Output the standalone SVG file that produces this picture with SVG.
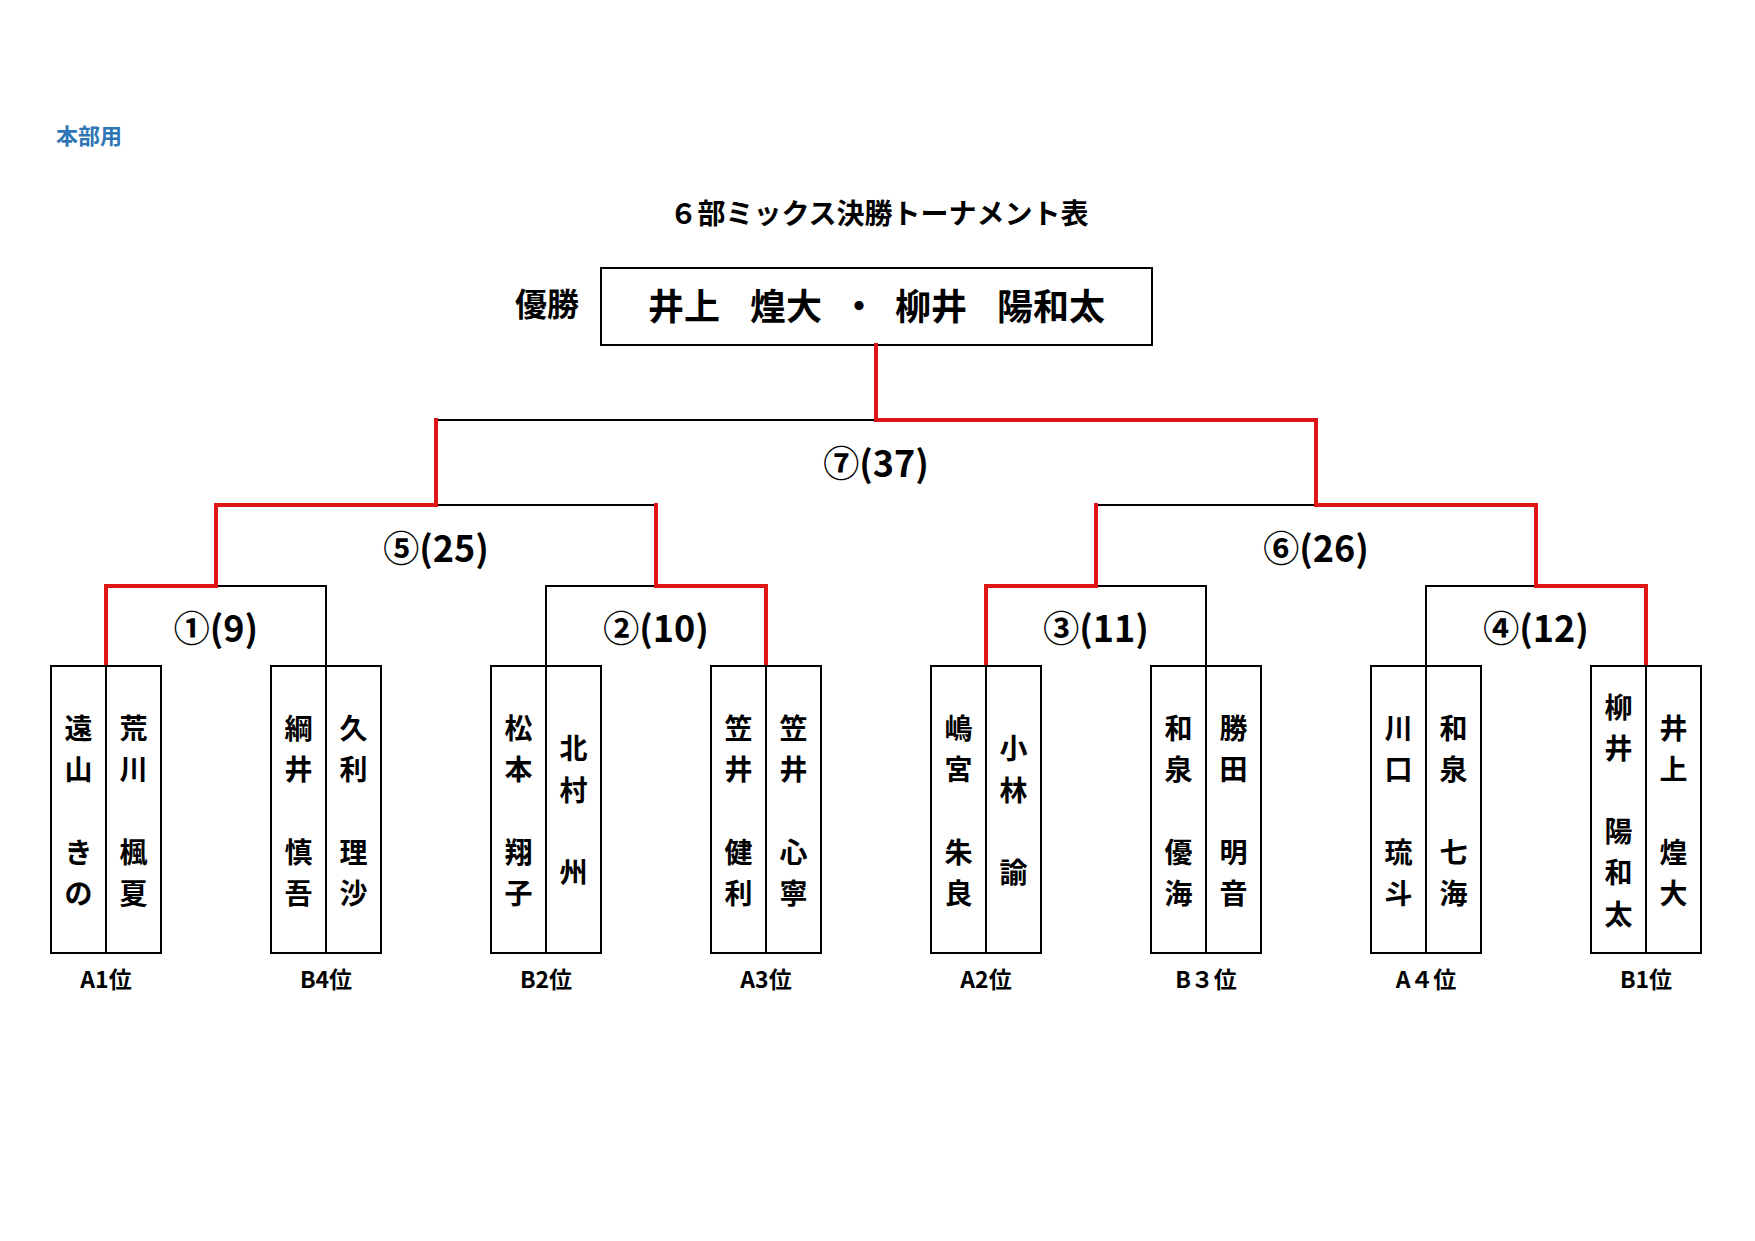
<svg xmlns="http://www.w3.org/2000/svg" width="1755" height="1241" viewBox="0 0 1755 1241">
<style>
.t{font-family:"Noto Sans CJK JP","Noto Sans",sans-serif;font-weight:bold;fill:#000}
.box{fill:#fff;stroke:#000;stroke-width:2}
.div{stroke:#000;stroke-width:2}
.blk{fill:none;stroke:#000;stroke-width:2}
.red{fill:none;stroke:#e01515;stroke-width:4;stroke-linejoin:miter;stroke-linecap:square}
.nm{font-size:28px;text-anchor:middle}
.rk{font-size:23px;text-anchor:middle}
.mt{font-size:36px;text-anchor:middle}
</style>
<rect width="1755" height="1241" fill="#fff"/>
<text class="t" x="56" y="144" style="font-size:22px;fill:#2e75b6">本部用</text>
<text class="t" x="879" y="224" style="font-size:28px;text-anchor:middle">６部ミックス決勝トーナメント表</text>
<g id="champion">
<text class="t" x="515" y="316" style="font-size:32px">優勝</text>
<rect class="box" x="601" y="268" width="551" height="77"/>
<text class="t" y="320" style="font-size:36px"><tspan x="648">井上 </tspan><tspan x="750">煌大 </tspan><tspan x="841">・ </tspan><tspan x="895">柳井 </tspan><tspan x="997">陽和太</tspan></text>
</g>
<g id="connectors">
<path class="blk" d="M216 586H326V666M546 666V586H656M1096 586H1206V666M1426 666V586H1536M436 505H656M1096 505H1316M436 420H876"/>
<path class="red" d="M106 666V586H216V505H436V420"/>
<path class="red" d="M766 666V586H656V505"/>
<path class="red" d="M986 666V586H1096V505"/>
<path class="red" d="M1646 666V586H1536V505H1316V420H876V345"/>
</g>
<g id="match-labels">
<text class="t mt" x="216" y="642">①(9)</text>
<text class="t mt" x="656" y="642">②(10)</text>
<text class="t mt" x="1096" y="642">③(11)</text>
<text class="t mt" x="1536" y="642">④(12)</text>
<text class="t mt" x="436" y="562">⑤(25)</text>
<text class="t mt" x="1316" y="562">⑥(26)</text>
<text class="t mt" x="876" y="477">⑦(37)</text>
</g>
<g id="team-a1">
<rect class="box" x="51" y="666" width="110" height="287"/><line class="div" x1="106" y1="666" x2="106" y2="953"/>
<text class="t nm"><tspan x="78.5" y="738.5">遠</tspan><tspan x="78.5" y="780">山</tspan><tspan x="78.5" y="862.5">き</tspan><tspan x="78.5" y="904">の</tspan></text>
<text class="t nm"><tspan x="133.5" y="738.5">荒</tspan><tspan x="133.5" y="780">川</tspan><tspan x="133.5" y="862.5">楓</tspan><tspan x="133.5" y="904">夏</tspan></text>
<text class="t rk" x="106" y="988">A1位</text>
</g>
<g id="team-b4">
<rect class="box" x="271" y="666" width="110" height="287"/><line class="div" x1="326" y1="666" x2="326" y2="953"/>
<text class="t nm"><tspan x="298.5" y="738.5">綱</tspan><tspan x="298.5" y="780">井</tspan><tspan x="298.5" y="862.5">慎</tspan><tspan x="298.5" y="904">吾</tspan></text>
<text class="t nm"><tspan x="353.5" y="738.5">久</tspan><tspan x="353.5" y="780">利</tspan><tspan x="353.5" y="862.5">理</tspan><tspan x="353.5" y="904">沙</tspan></text>
<text class="t rk" x="326" y="988">B4位</text>
</g>
<g id="team-b2">
<rect class="box" x="491" y="666" width="110" height="287"/><line class="div" x1="546" y1="666" x2="546" y2="953"/>
<text class="t nm"><tspan x="518.5" y="738.5">松</tspan><tspan x="518.5" y="780">本</tspan><tspan x="518.5" y="862.5">翔</tspan><tspan x="518.5" y="904">子</tspan></text>
<text class="t nm"><tspan x="573.5" y="759">北</tspan><tspan x="573.5" y="800.5">村</tspan><tspan x="573.5" y="883">州</tspan></text>
<text class="t rk" x="546" y="988">B2位</text>
</g>
<g id="team-a3">
<rect class="box" x="711" y="666" width="110" height="287"/><line class="div" x1="766" y1="666" x2="766" y2="953"/>
<text class="t nm"><tspan x="738.5" y="738.5">笠</tspan><tspan x="738.5" y="780">井</tspan><tspan x="738.5" y="862.5">健</tspan><tspan x="738.5" y="904">利</tspan></text>
<text class="t nm"><tspan x="793.5" y="738.5">笠</tspan><tspan x="793.5" y="780">井</tspan><tspan x="793.5" y="862.5">心</tspan><tspan x="793.5" y="904">寧</tspan></text>
<text class="t rk" x="766" y="988">A3位</text>
</g>
<g id="team-a2">
<rect class="box" x="931" y="666" width="110" height="287"/><line class="div" x1="986" y1="666" x2="986" y2="953"/>
<text class="t nm"><tspan x="958.5" y="738.5">嶋</tspan><tspan x="958.5" y="780">宮</tspan><tspan x="958.5" y="862.5">朱</tspan><tspan x="958.5" y="904">良</tspan></text>
<text class="t nm"><tspan x="1013.5" y="759">小</tspan><tspan x="1013.5" y="800.5">林</tspan><tspan x="1013.5" y="883">諭</tspan></text>
<text class="t rk" x="986" y="988">A2位</text>
</g>
<g id="team-b3">
<rect class="box" x="1151" y="666" width="110" height="287"/><line class="div" x1="1206" y1="666" x2="1206" y2="953"/>
<text class="t nm"><tspan x="1178.5" y="738.5">和</tspan><tspan x="1178.5" y="780">泉</tspan><tspan x="1178.5" y="862.5">優</tspan><tspan x="1178.5" y="904">海</tspan></text>
<text class="t nm"><tspan x="1233.5" y="738.5">勝</tspan><tspan x="1233.5" y="780">田</tspan><tspan x="1233.5" y="862.5">明</tspan><tspan x="1233.5" y="904">音</tspan></text>
<text class="t rk" x="1206" y="988">B３位</text>
</g>
<g id="team-a4">
<rect class="box" x="1371" y="666" width="110" height="287"/><line class="div" x1="1426" y1="666" x2="1426" y2="953"/>
<text class="t nm"><tspan x="1398.5" y="738.5">川</tspan><tspan x="1398.5" y="780">口</tspan><tspan x="1398.5" y="862.5">琉</tspan><tspan x="1398.5" y="904">斗</tspan></text>
<text class="t nm"><tspan x="1453.5" y="738.5">和</tspan><tspan x="1453.5" y="780">泉</tspan><tspan x="1453.5" y="862.5">七</tspan><tspan x="1453.5" y="904">海</tspan></text>
<text class="t rk" x="1426" y="988">A４位</text>
</g>
<g id="team-b1">
<rect class="box" x="1591" y="666" width="110" height="287"/><line class="div" x1="1646" y1="666" x2="1646" y2="953"/>
<text class="t nm"><tspan x="1618.5" y="718">柳</tspan><tspan x="1618.5" y="759">井</tspan><tspan x="1618.5" y="842">陽</tspan><tspan x="1618.5" y="883">和</tspan><tspan x="1618.5" y="924.5">太</tspan></text>
<text class="t nm"><tspan x="1673.5" y="738.5">井</tspan><tspan x="1673.5" y="780">上</tspan><tspan x="1673.5" y="862.5">煌</tspan><tspan x="1673.5" y="904">大</tspan></text>
<text class="t rk" x="1646" y="988">B1位</text>
</g>
</svg>
